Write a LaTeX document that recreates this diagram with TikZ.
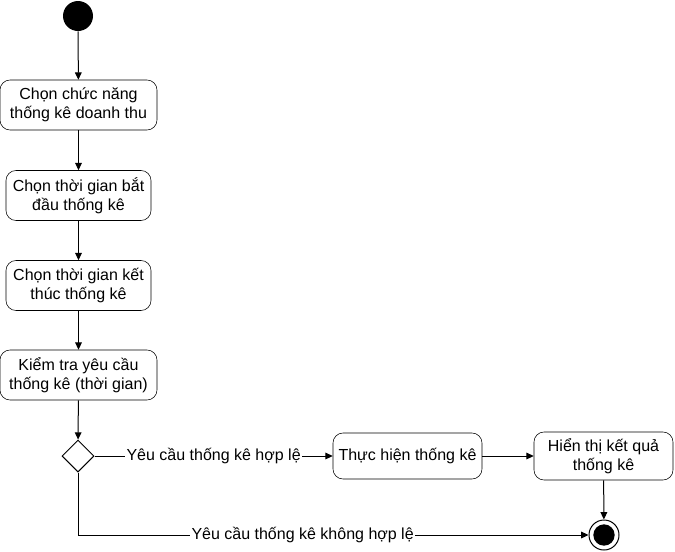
\documentclass[tikz,border=0pt]{standalone}
\usepackage{fontspec}
\setmainfont{Liberation Sans}
\usetikzlibrary{arrows.meta,shapes.geometric}
\begin{document}
\begin{tikzpicture}[x=0.75pt,y=-0.75pt,
  act/.style={draw,rounded corners=7.5pt,align=center,font=\fontsize{12}{14.3}\selectfont,inner sep=0pt},
  arr/.style={-{Triangle[length=5.5pt,width=5pt]},line width=0.75pt},
  lbl/.style={fill=white,inner sep=1pt,font=\fontsize{12}{14}\selectfont}]
\useasboundingbox (0,0) rectangle (675,551);
\node[circle,fill=black,minimum size=22.5pt,inner sep=0pt] (start) at (78,16) {};
\node[act,minimum width=117.75pt,minimum height=37.5pt] (a1) at (78.5,105) {Chọn chức năng\\thống kê doanh thu};
\node[act,minimum width=108.75pt,minimum height=37.5pt] (a2) at (78.5,195.5) {Chọn thời gian bắt\\đầu thống kê};
\node[act,minimum width=108.75pt,minimum height=37.5pt] (a3) at (78.5,285.5) {Chọn thời gian kết\\thúc thống kê};
\node[act,minimum width=117.75pt,minimum height=37.5pt] (a4) at (78.5,375) {Kiểm tra yêu cầu\\thống kê (thời gian)};
\node[diamond,draw,line width=0.75pt,minimum width=24pt,minimum height=24pt,inner sep=0pt] (d) at (78,456) {};
\node[act,minimum width=111.75pt,minimum height=34.5pt] (a5) at (407.5,456) {Thực hiện thống kê};
\node[act,minimum width=104.25pt,minimum height=36pt] (a6) at (603.5,456) {Hiển thị kết quả\\thống kê};
\node[circle,draw,line width=0.75pt,minimum size=22.5pt,inner sep=0pt] (end) at (604,535) {};
\node[circle,fill=black,minimum size=16pt,inner sep=0pt] (endin) at (604,535) {};
\draw[arr] (start) -- (a1);
\draw[arr] (a1) -- (a2);
\draw[arr] (a2) -- (a3);
\draw[arr] (a3) -- (a4);
\draw[arr] (a4) -- (d);
\draw[arr] (d) -- node[lbl] {Yêu cầu thống kê hợp lệ} (a5);
\draw[arr] (a5) -- (a6);
\draw[arr] (a6) -- (end);
\coordinate (corner) at (78,535);
\draw[arr] (d.south) -- (corner) -- node[lbl,pos=0.44] {Yêu cầu thống kê không hợp lệ} (end.west);
\end{tikzpicture}
\end{document}
